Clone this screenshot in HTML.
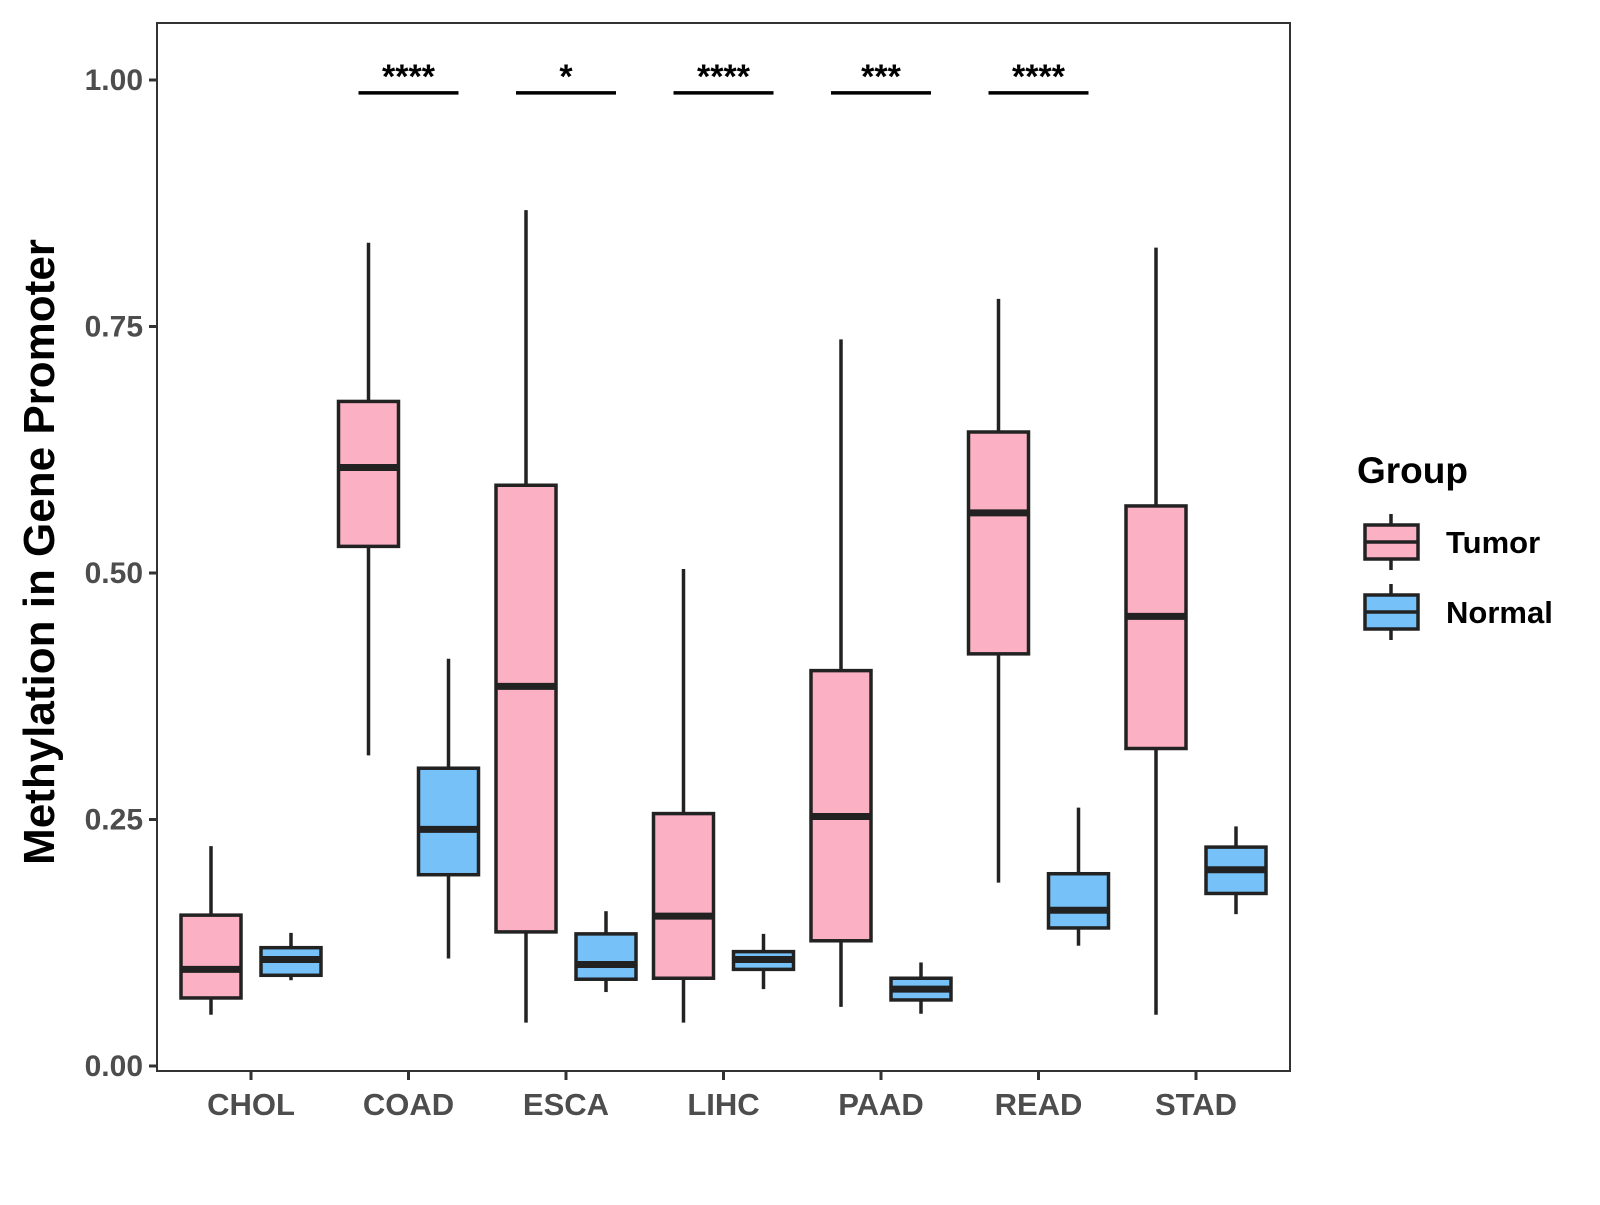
<!DOCTYPE html>
<html><head><meta charset="utf-8"><style>
body{margin:0;background:#fff}
svg text{font-family:"Liberation Sans",Arial,sans-serif;font-weight:bold}
</style></head><body>
<svg id="chart" width="1600" height="1200" xmlns="http://www.w3.org/2000/svg">
<rect x="0" y="0" width="1600" height="1200" fill="#fff"/>
<g id="plot"></g>
</svg>
<script>
const categories=["CHOL","COAD","ESCA","LIHC","PAAD","READ","STAD"];
// [lower whisker, Q1, median, Q3, upper whisker]
const tumorStats=[[0.052,0.069,0.098,0.153,0.223],[0.315,0.527,0.607,0.674,0.835],[0.044,0.136,0.385,0.589,0.868],[0.044,0.089,0.152,0.256,0.504],[0.060,0.127,0.253,0.401,0.737],[0.186,0.418,0.561,0.643,0.778],[0.052,0.322,0.456,0.568,0.830]];
const normalStats=[[0.087,0.092,0.108,0.120,0.135],[0.109,0.194,0.240,0.302,0.413],[0.075,0.088,0.103,0.134,0.157],[0.078,0.098,0.108,0.116,0.134],[0.053,0.067,0.078,0.089,0.105],[0.122,0.140,0.158,0.195,0.262],[0.154,0.175,0.199,0.222,0.243]];
const sigLabels=["","****","*","****","***","****",""];
const yTicks=[0,0.25,0.5,0.75,1.0];
const yTickLabels=["0.00","0.25","0.50","0.75","1.00"];

const NS="http://www.w3.org/2000/svg";
const g=document.getElementById('plot');
const L=157,R=1290,T=23,B=1071;
function y(v){return 1066-986*v;}
function x(i){return 251+157.5*i;}
function mk(tag,attrs,parent){const e=document.createElementNS(NS,tag);for(const k in attrs)e.setAttribute(k,attrs[k]);(parent||g).appendChild(e);return e;}

const panel=mk('rect',{x:L,y:T,width:R-L,height:B-T,fill:'none',stroke:'#333',"stroke-width":2});



yTicks.forEach((v,i)=>{
  const t=mk('line',{x1:L-8,x2:L,y1:y(v),y2:y(v),stroke:'#333',"stroke-width":3});
  
  
  const tx=mk('text',{x:L-14,y:y(v)+10,"text-anchor":"end","font-size":30,fill:'#4d4d4d'});
  tx.textContent=yTickLabels[i];
  
  
});

function drawBox(s,cx,fill,name){
  const w=60;
  const grp=mk('g',{});
  
  
  mk('line',{x1:cx,x2:cx,y1:y(s[0]),y2:y(s[1]),stroke:'#222',"stroke-width":3.5},grp);
  mk('line',{x1:cx,x2:cx,y1:y(s[3]),y2:y(s[4]),stroke:'#222',"stroke-width":3.5},grp);
  mk('rect',{x:cx-w/2,y:y(s[3]),width:w,height:y(s[1])-y(s[3]),fill:fill,stroke:'#222',"stroke-width":3.5},grp);
  mk('line',{x1:cx-w/2,x2:cx+w/2,y1:y(s[2]),y2:y(s[2]),stroke:'#222',"stroke-width":7},grp);
}

categories.forEach((c,i)=>{
  const cx=x(i);
  drawBox(tumorStats[i],cx-40,'#FBB1C3','box-tumor-'+c.toLowerCase());
  drawBox(normalStats[i],cx+40,'#76C1F8','box-normal-'+c.toLowerCase());
  const t=mk('line',{x1:cx,x2:cx,y1:B,y2:B+9,stroke:'#333',"stroke-width":3});
  
  
  const tx=mk('text',{x:cx,y:1115,"text-anchor":"middle","font-size":31,fill:'#4d4d4d'});
  tx.textContent=c;
  
  
  if(sigLabels[i]){
    const bar=mk('line',{x1:cx-50,x2:cx+50,y1:y(0.987),y2:y(0.987),stroke:'#000',"stroke-width":3.5});
    
    
    const st=mk('text',{x:cx,y:y(0.987)-5,"text-anchor":"middle","font-size":34,fill:'#000'});
    st.textContent=sigLabels[i];
    
    
  }
});

const yt=mk('text',{x:0,y:0,transform:'translate(54,552) rotate(-90)',"text-anchor":"middle","font-size":44,fill:'#000'});
yt.textContent='Methylation in Gene Promoter';



const lt=mk('text',{x:1357,y:483,"font-size":37,fill:'#000'});
lt.textContent='Group';



[['Tumor','#FBB1C3',542],['Normal','#76C1F8',612]].forEach(([lab,col,cy])=>{
  const e=mk('g',{});
  
  
  mk('line',{x1:1391,x2:1391,y1:cy-28,y2:cy+28,stroke:'#222',"stroke-width":3.5},e);
  mk('rect',{x:1365,y:cy-17,width:53,height:34,fill:col,stroke:'#222',"stroke-width":3.5},e);
  mk('line',{x1:1365,x2:1418,y1:cy,y2:cy,stroke:'#222',"stroke-width":3.5},e);
  const t=mk('text',{x:1446,y:cy+11,"font-size":31,fill:'#000'},e);
  t.textContent=lab;
});
</script>
</body></html>
